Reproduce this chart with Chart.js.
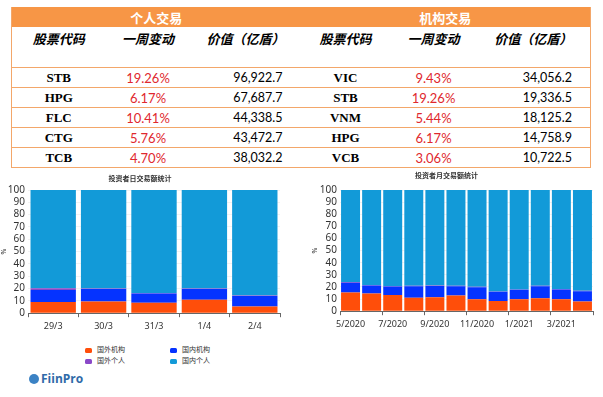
<!DOCTYPE html>
<html lang="zh">
<head>
  <meta charset="UTF-8" />
  <title>个人交易 / 机构交易</title>
  <script src="https://cdn.jsdelivr.net/npm/chart.js"></script>
  <style>
    html, body { margin: 0; padding: 0; background: #fff; }
    body { width: 603px; height: 397px; position: relative; overflow: hidden; font-family: "Noto Sans", sans-serif; }
    .tbl { position: absolute; left: 11px; top: 7px; border-collapse: collapse; table-layout: fixed; }
    .tbl td { padding: 0; border-top: 1px solid #f3a76a; height: 19px; white-space: nowrap; }
    .tbl tr.cap td { background: #f79646; color: #fff; font: bold 13px "Noto Sans CJK SC", sans-serif; text-align: center; height: 20px; border: none; }
    .tbl tr.head td { font: italic bold 13px "Noto Sans CJK SC", sans-serif; text-align: center; vertical-align: top; height: 38px; padding-top: 2px; border: none; }
    .tbl td.tk { font: bold 13px "Liberation Serif", serif; text-align: center; }
    .tbl td.pc { font: 13px Lato, sans-serif; color: #e0282e; text-align: center; }
    .tbl td.val { font: 12.5px Lato, sans-serif; text-align: right; padding-right: 18px; }
    .tbl { border-left: 1px solid #f3a76a; border-right: 1px solid #f3a76a; border-bottom: 1px solid #f3a76a; }
    .box { position: absolute; }
    .legend { position: absolute; left: 85px; top: 344px; width: 180px; }
    .legend span.it { position: absolute; font: 7px "Noto Sans CJK SC", sans-serif; color: #333; white-space: nowrap; }
    .legend i { display: inline-block; width: 7px; height: 5px; border-radius: 1.5px; margin-right: 5px; vertical-align: middle; }
    .logo { position: absolute; left: 29px; top: 370px; font: bold 12px "Open Sans", sans-serif; color: #2f6aa8; }
    .logo b { display: inline-block; width: 10px; height: 10px; border-radius: 50%; background: #3b82c4; margin-right: 2px; vertical-align: -1px; }
  </style>
</head>
<body>

<table class="tbl" id="tbl">
  <colgroup>
    <col style="width:94px"><col style="width:85px"><col style="width:110px">
    <col style="width:90px"><col style="width:86px"><col style="width:114px">
  </colgroup>
</table>

<div class="box" style="left:0;top:170px;width:300px;height:166px;"><canvas id="dailyChart"></canvas></div>
<div class="box" style="left:300px;top:170px;width:303px;height:164px;"><canvas id="monthlyChart"></canvas></div>
<div class="legend" id="legend"></div>
<div class="logo"><b></b>FiinPro</div>

<script>
  // Tabelle: Top-Aktien
  const retailTickers = ['STB', 'HPG', 'FLC', 'CTG', 'TCB'];
  const retailChange = ['19.26%', '6.17%', '10.41%', '5.76%', '4.70%'];
  const retailValue = ['96,922.7', '67,687.7', '44,338.5', '43,472.7', '38,032.2'];
  const instTickers = ['VIC', 'STB', 'VNM', 'HPG', 'VCB'];
  const instChange = ['9.43%', '19.26%', '5.44%', '6.17%', '3.06%'];
  const instValue = ['34,056.2', '19,336.5', '18,125.2', '14,758.9', '10,722.5'];
  const tableCaptions = ['个人交易', '机构交易'];
  const tableHeaders = ['股票代码', '一周变动', '价值（亿盾）'];

  // Tagesdaten (%)
  const dayLabels = ['29/3', '30/3', '31/3', '1/4', '2/4'];
  const dayForeignInst = [9, 9.5, 8.4, 11, 5.4];
  const dayDomesticInst = [9.9, 10.2, 7.6, 8.7, 8.6];
  const dayForeignInd = [1.3, 0.4, 0.4, 0.4, 0.4];
  const dayDomesticInd = [79.8, 79.9, 83.6, 79.9, 85.6];

  // Monatsdaten (%)
  const monthLabels = ['5/2020', '6/2020', '7/2020', '8/2020', '9/2020', '10/2020', '11/2020', '12/2020', '1/2021', '2/2021', '3/2021', '4/2021'];
  const monForeignInst = [15.5, 14.7, 13.3, 11.2, 11.5, 13, 9.9, 8.5, 9.9, 10.7, 9.9, 8];
  const monDomesticInst = [8, 6.6, 7, 9.3, 9.3, 7.5, 9.8, 7.5, 7.7, 9.8, 8, 8.5];
  const monForeignInd = [0.5, 0.4, 0.4, 0.4, 0.4, 0.4, 0.4, 0.3, 0.3, 0.4, 0.4, 0.3];
  const monDomesticInd = [76, 78.3, 79.3, 79.1, 78.8, 79.1, 79.9, 83.7, 82.1, 79.1, 81.7, 83.2];

  const seriesNames = ['国外机构', '国内机构', '国外个人', '国内个人'];
  const seriesColors = ['#ff4e0a', '#0533ff', '#8a48c8', '#129ad8'];

  // Tabelle aufbauen
  const tbl = document.getElementById('tbl');
  let html = '<tr class="cap"><td colspan="3">' + tableCaptions[0] + '</td><td colspan="3">' + tableCaptions[1] + '</td></tr>';
  html += '<tr class="head">' + tableHeaders.concat(tableHeaders).map(h => '<td>' + h + '</td>').join('') + '</tr>';
  for (let i = 0; i < retailTickers.length; i++) {
    html += '<tr>' +
      '<td class="tk">' + retailTickers[i] + '</td><td class="pc">' + retailChange[i] + '</td><td class="val">' + retailValue[i] + '</td>' +
      '<td class="tk">' + instTickers[i] + '</td><td class="pc">' + instChange[i] + '</td><td class="val">' + instValue[i] + '</td></tr>';
  }
  tbl.innerHTML += html;

  Chart.defaults.font.family = '"Noto Sans", "Noto Sans CJK SC", sans-serif';
  Chart.defaults.color = '#333';

  function makeDatasets(a, b, c, d) {
    return [a, b, c, d].map((data, i) => ({
      label: seriesNames[i],
      data: data,
      backgroundColor: seriesColors[i],
      borderWidth: 0,
      categoryPercentage: 1,
      barPercentage: 0.9
    }));
  }

  function makeOptions(title, axisWidth, titlePad, rightPad, skipOdd, titleTop) {
    return {
      responsive: true,
      maintainAspectRatio: false,
      animation: false,
      layout: { padding: { left: 0, right: rightPad, top: 0, bottom: 0 } },
      plugins: {
        legend: { display: false },
        tooltip: { enabled: false },
        title: { display: true, text: title, font: { size: 7 }, color: '#333', padding: { top: titleTop, bottom: 20 - titleTop - 8.4 } }
      },
      scales: {
        x: {
          stacked: true,
          grid: {
            offset: true, drawOnChartArea: false, tickLength: 4,
            color: ctx => (skipOdd && ctx.index % 2) ? 'rgba(0,0,0,0)' : '#666'
          },
          border: { color: '#666' },
          ticks: {
            autoSkip: false, maxRotation: 0, font: { size: 9 }, padding: 4,
            callback: function (v, i) { return (skipOdd && i % 2) ? '' : this.getLabelForValue(v); }
          }
        },
        y: {
          stacked: true, min: 0, max: 100,
          afterFit: s => { s.width = axisWidth; },
          grid: { color: 'rgba(0,0,0,0.05)', drawTicks: false },
          border: { display: false },
          ticks: { stepSize: 10, autoSkip: false, font: { size: 10 }, padding: 3 },
          title: { display: true, text: '%', font: { size: 7 }, padding: { top: titlePad, bottom: 0 } }
        }
      }
    };
  }

  new Chart(document.getElementById('dailyChart'), {
    type: 'bar',
    data: { labels: dayLabels, datasets: makeDatasets(dayForeignInst, dayDomesticInst, dayForeignInd, dayDomesticInd) },
    options: makeOptions('投资者日交易额统计', 28, 0, 20, false, 5)
  });

  new Chart(document.getElementById('monthlyChart'), {
    type: 'bar',
    data: { labels: monthLabels, datasets: makeDatasets(monForeignInst, monDomesticInst, monForeignInd, monDomesticInd) },
    options: makeOptions('投资者月交易额统计', 40, 11, 10, true, 2)
  });

  // Legende (2 x 2) unter dem linken Diagramm
  const legend = document.getElementById('legend');
  const pos = [[0, 0], [85, 0], [0, 11], [85, 11]];
  seriesNames.forEach((n, i) => {
    const s = document.createElement('span');
    s.className = 'it';
    s.style.left = pos[i][0] + 'px';
    s.style.top = pos[i][1] + 'px';
    s.innerHTML = '<i style="background:' + seriesColors[i] + '"></i>' + n;
    legend.appendChild(s);
  });
</script>
</body>
</html>
